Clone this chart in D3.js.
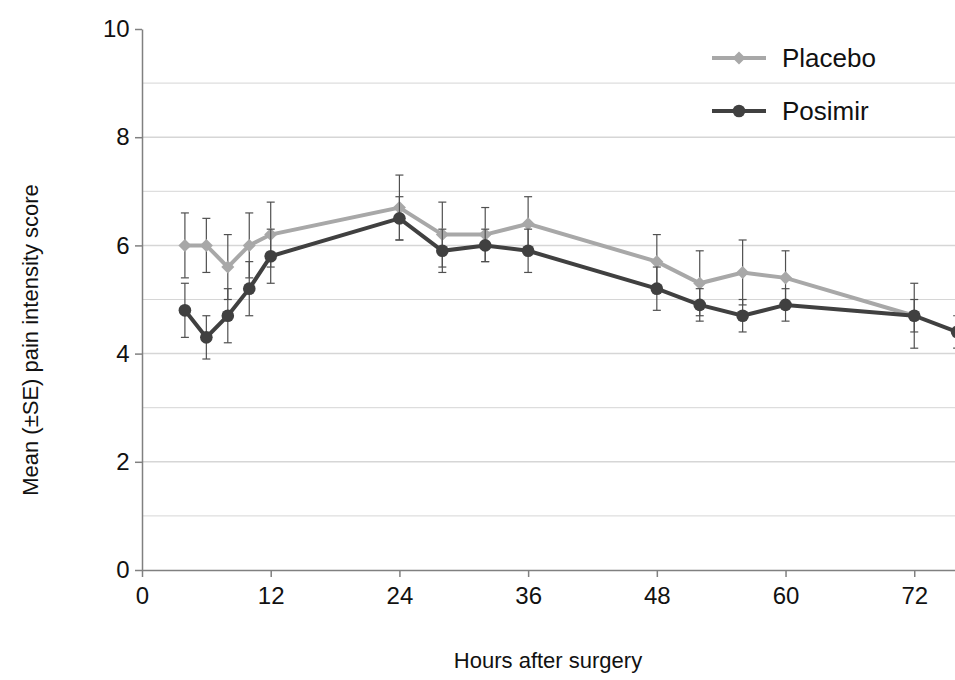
<!DOCTYPE html>
<html><head><meta charset="utf-8">
<script src="https://cdn.jsdelivr.net/npm/d3@7"></script>
<style>body{margin:0;background:#fff}svg{font-family:Arial,"Liberation Sans",sans-serif}</style>
</head><body><svg id="c" width="955" height="680"></svg>
<script>
const hoursPlacebo = [4, 6, 8, 10, 12, 24, 28, 32, 36, 48, 52, 56, 60, 72];
const placebo      = [6.0, 6.0, 5.6, 6.0, 6.2, 6.7, 6.2, 6.2, 6.4, 5.7, 5.3, 5.5, 5.4, 4.7];
const placeboSE    = [0.6, 0.5, 0.6, 0.6, 0.6, 0.6, 0.6, 0.5, 0.5, 0.5, 0.6, 0.6, 0.5, 0.6];
const hoursPosimir = [4, 6, 8, 10, 12, 24, 28, 32, 36, 48, 52, 56, 60, 72, 76];
const posimir      = [4.8, 4.3, 4.7, 5.2, 5.8, 6.5, 5.9, 6.0, 5.9, 5.2, 4.9, 4.7, 4.9, 4.7, 4.4];
const posimirSE    = [0.5, 0.4, 0.5, 0.5, 0.5, 0.4, 0.4, 0.3, 0.4, 0.4, 0.3, 0.3, 0.3, 0.3, 0.3];
const xTicks = [0, 12, 24, 36, 48, 60, 72];
const yTicks = [0, 2, 4, 6, 8, 10];

const svg = d3.select('#c');
const x = d3.scaleLinear().domain([0, 75.8]).range([142, 955]);
const y = d3.scaleLinear().domain([0, 10]).range([570, 29]);

// gridlines
svg.append('g').selectAll('line').data(d3.range(1, 10)).join('line')
  .attr('x1', x(0)).attr('x2', 955).attr('y1', d => y(d)).attr('y2', d => y(d))
  .attr('stroke', '#d6d6d6').attr('stroke-width', d => d % 2 ? 1 : 1.5);

const xAxis = svg.append('g').attr('transform', `translate(0,${y(0)})`)
  .call(d3.axisBottom(x).tickValues(xTicks).tickSize(7).tickSizeOuter(0));
const yAxis = svg.append('g').attr('transform', `translate(${x(0)},0)`)
  .call(d3.axisLeft(y).tickValues(yTicks).tickSize(7).tickSizeOuter(0));
[xAxis, yAxis].forEach(a => {
  a.attr('font-family', null).attr('font-size', 24);
  a.selectAll('path,line').attr('stroke', '#808080').attr('stroke-width', 1.5);
  a.selectAll('text').attr('fill', '#111');
});
xAxis.selectAll('text').attr('dy', '1.0em');
yAxis.selectAll('text').attr('dx', '-0.1em');

svg.append('clipPath').attr('id', 'cl').append('rect')
  .attr('x', x(0)).attr('y', 0).attr('width', 955 - x(0)).attr('height', 600);
const plot = svg.append('g').attr('clip-path', 'url(#cl)');

function marker(sel, shape, color) {
  if (shape === 'diamond') {
    sel.append('path').attr('d', d3.symbol().type(d3.symbolSquare).size(85)).attr('transform', 'rotate(45)').attr('fill', color);
  } else {
    sel.append('path').attr('d', d3.symbol().type(d3.symbolCircle).size(125)).attr('fill', color);
  }
}

function series(hours, vals, se, color, shape) {
  const pts = hours.map((h, i) => ({h, v: vals[i], e: se[i]}));
  const g = plot.append('g');
  g.selectAll('.eb').data(pts).join('g').each(function(d) {
    const s = d3.select(this), cx = x(d.h);
    s.append('line').attr('x1', cx).attr('x2', cx).attr('y1', y(d.v - d.e)).attr('y2', y(d.v + d.e));
    [d.v - d.e, d.v + d.e].forEach(v => s.append('line').attr('x1', cx - 4).attr('x2', cx + 4).attr('y1', y(v)).attr('y2', y(v)));
  }).selectAll('line').attr('stroke', '#505050').attr('stroke-width', 1.2);
  g.append('path').datum(pts)
    .attr('d', d3.line().x(d => x(d.h)).y(d => y(d.v)))
    .attr('fill', 'none').attr('stroke', color).attr('stroke-width', 4);
  g.selectAll('.m').data(pts).join('g')
    .attr('transform', d => `translate(${x(d.h)},${y(d.v)})`)
    .each(function() { marker(d3.select(this), shape, color); });
}
series(hoursPlacebo, placebo, placeboSE, '#a8a8a8', 'diamond');
series(hoursPosimir, posimir, posimirSE, '#404040', 'circle');

// legend
const legend = [['Placebo', '#a8a8a8', 'diamond'], ['Posimir', '#404040', 'circle']];
legend.forEach(([name, color, shape], i) => {
  const ly = 58 + i * 53;
  svg.append('line').attr('x1', 712).attr('x2', 766).attr('y1', ly).attr('y2', ly)
    .attr('stroke', color).attr('stroke-width', 4);
  marker(svg.append('g').attr('transform', `translate(739,${ly})`), shape, color);
  svg.append('text').attr('x', 782).attr('y', ly + 9).attr('font-size', 26).attr('fill', '#111').text(name);
});

svg.append('text').attr('x', 548).attr('y', 668).attr('text-anchor', 'middle')
  .attr('font-size', 22).attr('fill', '#111').text('Hours after surgery');
svg.append('text').attr('transform', 'translate(38,340) rotate(-90)').attr('text-anchor', 'middle')
  .attr('font-size', 22).attr('fill', '#111').text('Mean (±SE) pain intensity score');
</script></body></html>
